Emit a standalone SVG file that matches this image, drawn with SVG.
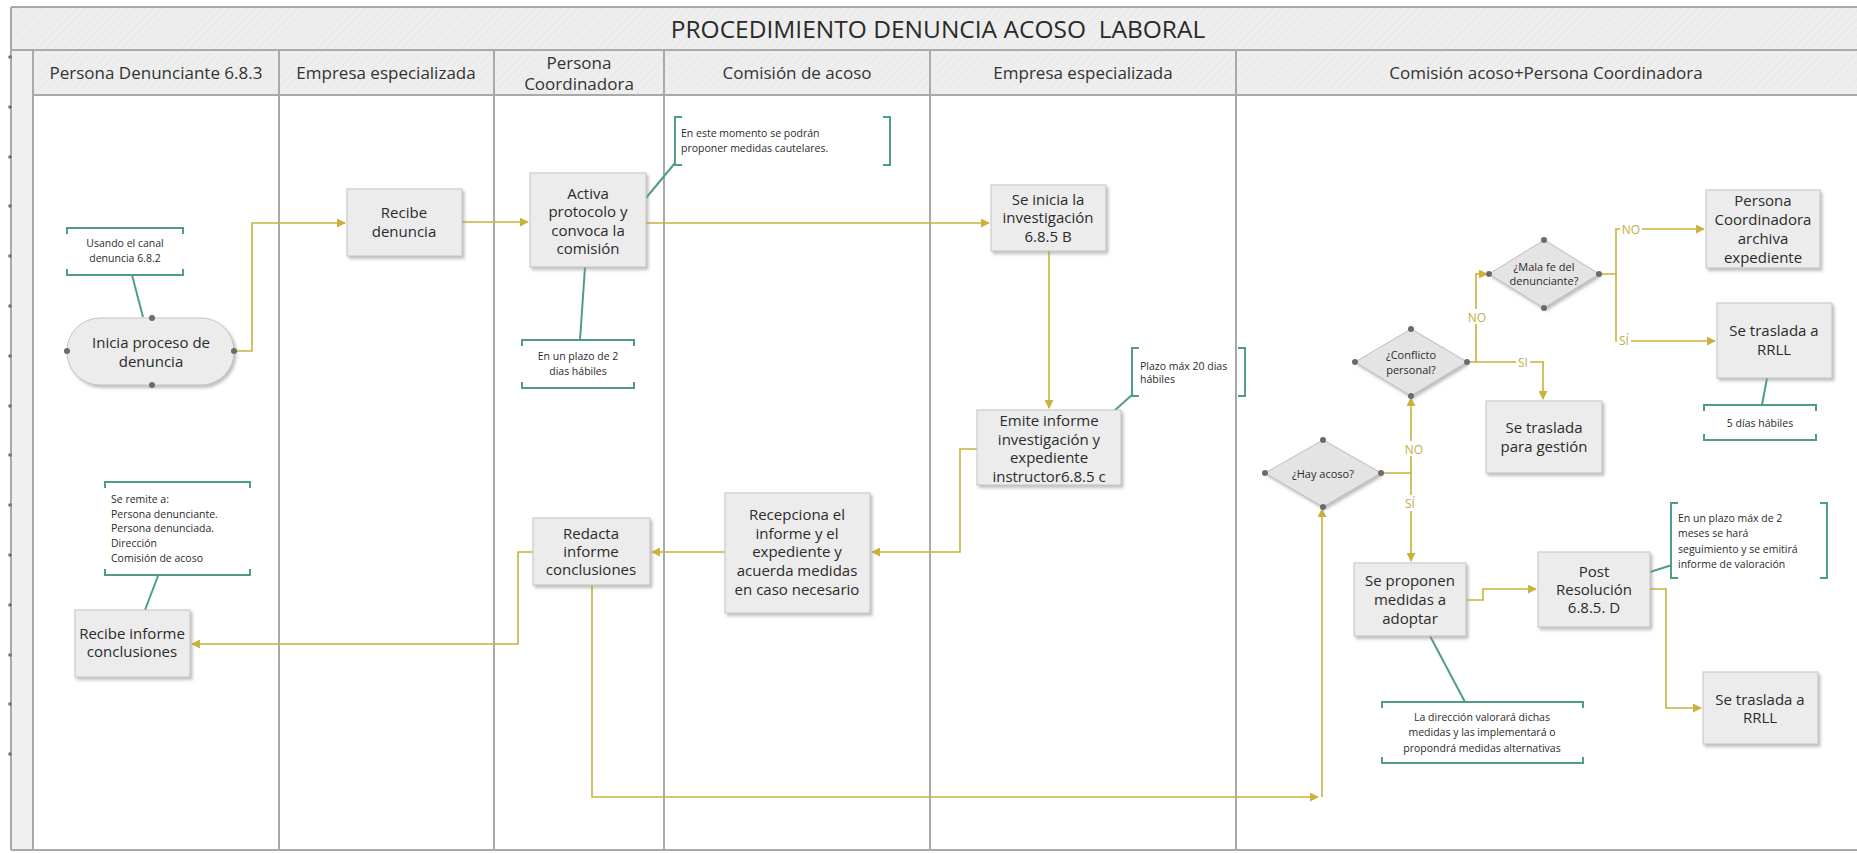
<svg xmlns="http://www.w3.org/2000/svg" width="1857" height="853" viewBox="0 0 1857 853">
<defs>
<pattern id="hatch" width="6" height="6" patternUnits="userSpaceOnUse" patternTransform="rotate(45)">
<rect width="6" height="6" fill="#eeeeee"/>
<line x1="0" y1="0" x2="0" y2="6" stroke="#e7e7e7" stroke-width="1.5"/>
</pattern>
<filter id="sh" x="-10%" y="-10%" width="130%" height="130%">
<feDropShadow dx="2" dy="2.5" stdDeviation="1.5" flood-color="#8a8a8a" flood-opacity="0.55"/>
</filter>
<marker id="arr" viewBox="0 0 10 10" refX="9" refY="5" markerWidth="9" markerHeight="9" markerUnits="userSpaceOnUse" orient="auto">
<path d="M0,0 L10,5 L0,10 z" fill="#c9b13c"/>
</marker>
<style>
.lane{stroke:#a9a9a9;stroke-width:2;fill:none}
.hdr{font-family:'Open Sans','Noto Sans',sans-serif;font-size:17px;fill:#333;text-anchor:middle;dominant-baseline:central}
.ttl{font-family:'Open Sans','Noto Sans',sans-serif;font-size:24.5px;fill:#2a2a2a;text-anchor:middle;dominant-baseline:central}
.box{fill:#ececec;stroke:#c4c4c4;stroke-width:1;filter:url(#sh)}
.dia{fill:#e4e4e4;stroke:#bdbdbd;stroke-width:1;filter:url(#sh)}
.t{font-family:'Open Sans','Noto Sans',sans-serif;font-size:15px;fill:#2b2b2b;text-anchor:middle;dominant-baseline:central}
.td{font-family:'Open Sans','Noto Sans',sans-serif;font-size:11px;fill:#2b2b2b;text-anchor:middle;dominant-baseline:central}
.n{font-family:'Open Sans','Noto Sans',sans-serif;font-size:10.5px;fill:#2b2b2b;dominant-baseline:central}
.nc{text-anchor:middle}
.br{fill:none;stroke:#4f9d88;stroke-width:2}
.nl{fill:none;stroke:#4f9d88;stroke-width:2}
.e{fill:none;stroke:#c9b13c;stroke-width:1.6}
.lb{font-family:'Open Sans','Noto Sans',sans-serif;font-size:12px;fill:#c4ad45;text-anchor:middle;dominant-baseline:central}
.lbbg{fill:#ffffff}
.dot{fill:#6b6b6b}
.tick{fill:#707070}
</style>
</defs>

<!-- background -->
<rect x="0" y="0" width="1857" height="853" fill="#ffffff"/>
<g id="frame">
<rect x="11" y="7" width="1850" height="43" fill="url(#hatch)"/>
<rect x="11" y="50" width="1850" height="45" fill="url(#hatch)"/>
<rect x="11" y="50" width="22" height="800" fill="#f0f0f0"/>
<line x1="11" y1="7" x2="1857" y2="7" class="lane"/>
<line x1="11" y1="50" x2="1857" y2="50" class="lane"/>
<line x1="33" y1="95" x2="1857" y2="95" class="lane"/>
<line x1="11" y1="850" x2="1857" y2="850" class="lane"/>
<line x1="11" y1="7" x2="11" y2="850" class="lane"/>
<line x1="33" y1="50" x2="33" y2="850" class="lane"/>
<line x1="279" y1="50" x2="279" y2="850" class="lane"/>
<line x1="494" y1="50" x2="494" y2="850" class="lane"/>
<line x1="664" y1="50" x2="664" y2="850" class="lane"/>
<line x1="930" y1="50" x2="930" y2="850" class="lane"/>
<line x1="1236" y1="50" x2="1236" y2="850" class="lane"/>
<g class="tick">
<circle cx="10" cy="57" r="1.8"/><circle cx="10" cy="107" r="1.8"/><circle cx="10" cy="157" r="1.8"/><circle cx="10" cy="206" r="1.8"/><circle cx="10" cy="256" r="1.8"/><circle cx="10" cy="306" r="1.8"/><circle cx="10" cy="356" r="1.8"/><circle cx="10" cy="406" r="1.8"/><circle cx="10" cy="455" r="1.8"/><circle cx="10" cy="505" r="1.8"/><circle cx="10" cy="555" r="1.8"/><circle cx="10" cy="605" r="1.8"/><circle cx="10" cy="655" r="1.8"/><circle cx="10" cy="704" r="1.8"/><circle cx="10" cy="754" r="1.8"/>
</g>
<text class="ttl" x="938" y="28" xml:space="preserve">PROCEDIMIENTO DENUNCIA ACOSO  LABORAL</text>
<text class="hdr" x="156" y="72">Persona Denunciante 6.8.3</text>
<text class="hdr" x="386" y="72">Empresa especializada</text>
<text class="hdr" x="579" y="62">Persona</text>
<text class="hdr" x="579" y="83">Coordinadora</text>
<text class="hdr" x="797" y="72">Comisión de acoso</text>
<text class="hdr" x="1083" y="72">Empresa especializada</text>
<text class="hdr" x="1546" y="72">Comisión acoso+Persona Coordinadora</text>
</g>

<!-- connectors -->
<g id="connectors">
<path class="e" d="M234,351 H252 V223 H345" marker-end="url(#arr)"/>
<path class="e" d="M462,222 H528" marker-end="url(#arr)"/>
<path class="e" d="M646,223 H989" marker-end="url(#arr)"/>
<path class="e" d="M1049,251 V408" marker-end="url(#arr)"/>
<path class="e" d="M977,449 H960 V552 H872" marker-end="url(#arr)"/>
<path class="e" d="M725,552 H652" marker-end="url(#arr)"/>
<path class="e" d="M533,552 H518 V644 H192" marker-end="url(#arr)"/>
<path class="e" d="M592,585 V797 H1318" marker-end="url(#arr)"/>
<path class="e" d="M1322,797 V509" marker-end="url(#arr)"/>
<path class="e" d="M1381,473 H1411 V398" marker-end="url(#arr)"/>
<path class="e" d="M1411,473 V561" marker-end="url(#arr)"/>
<path class="e" d="M1467,362 H1476 V274 H1487" marker-end="url(#arr)"/>
<path class="e" d="M1476,362 H1543 V399" marker-end="url(#arr)"/>
<path class="e" d="M1599,274 H1616 V229 H1704" marker-end="url(#arr)"/>
<path class="e" d="M1616,274 V341 H1715" marker-end="url(#arr)"/>
<path class="e" d="M1466,600 H1483 V589 H1536" marker-end="url(#arr)"/>
<path class="e" d="M1650,589 H1666 V708 H1701" marker-end="url(#arr)"/>
<!-- edge labels -->
<rect class="lbbg" x="1404" y="441" width="20" height="15"/><text class="lb" x="1414" y="449">NO</text>
<rect class="lbbg" x="1403" y="495" width="16" height="16"/><text class="lb" x="1410" y="503">SÍ</text>
<rect class="lbbg" x="1467" y="309" width="20" height="15"/><text class="lb" x="1477" y="317">NO</text>
<rect class="lbbg" x="1516" y="355" width="14" height="15"/><text class="lb" x="1523" y="362">SI</text>
<rect class="lbbg" x="1620" y="222" width="22" height="15"/><text class="lb" x="1631" y="229">NO</text>
<rect class="lbbg" x="1617" y="333" width="14" height="16"/><text class="lb" x="1624" y="340">SÍ</text>
<!-- note connectors -->
<line class="nl" x1="132" y1="275" x2="143" y2="317"/>
<line class="nl" x1="646" y1="198" x2="675" y2="163"/>
<line class="nl" x1="585" y1="267" x2="580" y2="340"/>
<line class="nl" x1="1114" y1="411" x2="1133" y2="394"/>
<line class="nl" x1="158" y1="576" x2="145" y2="610"/>
<line class="nl" x1="1767" y1="378" x2="1762" y2="405"/>
<line class="nl" x1="1650" y1="572" x2="1672" y2="565"/>
<line class="nl" x1="1430" y1="636" x2="1465" y2="702"/>
</g>

<!-- nodes -->
<g id="inicia">
<rect class="box" x="67" y="318" width="167" height="67" rx="33" ry="33"/>
<text class="t" x="151" y="342">Inicia proceso de</text>
<text class="t" x="151" y="361">denuncia</text>
<circle class="dot" cx="152" cy="318" r="3"/><circle class="dot" cx="152" cy="385" r="3"/><circle class="dot" cx="67" cy="351" r="3"/><circle class="dot" cx="234" cy="351" r="3"/>
</g>
<g id="note-usando">
<path class="br" d="M67,234 V228 H183 V234 M67,269 V275 H183 V269"/>
<text class="n nc" x="125" y="243">Usando el canal</text>
<text class="n nc" x="125" y="258">denuncia 6.8.2</text>
</g>
<g id="recibe-denuncia">
<rect class="box" x="347" y="189" width="115" height="67"/>
<text class="t" x="404" y="212">Recibe</text>
<text class="t" x="404" y="231">denuncia</text>
</g>
<g id="activa">
<rect class="box" x="530" y="173" width="116" height="94"/>
<text class="t" x="588" y="193">Activa</text>
<text class="t" x="588" y="211">protocolo y</text>
<text class="t" x="588" y="230">convoca la</text>
<text class="t" x="588" y="248">comisión</text>
</g>
<g id="note-cautelares">
<path class="br" d="M682,117 H675 V165 H682 M883,117 H890 V165 H883"/>
<text class="n" x="681" y="133">En este momento se podrán</text>
<text class="n" x="681" y="148">proponer medidas cautelares.</text>
</g>
<g id="note-plazo2">
<path class="br" d="M522,346 V340 H634 V346 M522,382 V388 H634 V382"/>
<text class="n nc" x="578" y="356">En un plazo de 2</text>
<text class="n nc" x="578" y="371">dias hábiles</text>
</g>
<g id="se-inicia">
<rect class="box" x="991" y="185" width="115" height="66"/>
<text class="t" x="1048" y="199">Se inicia la</text>
<text class="t" x="1048" y="217">investigación</text>
<text class="t" x="1048" y="236">6.8.5 B</text>
</g>
<g id="emite">
<rect class="box" x="977" y="410" width="144" height="75"/>
<text class="t" x="1049" y="420">Emite informe</text>
<text class="t" x="1049" y="439">investigación y</text>
<text class="t" x="1049" y="457">expediente</text>
<text class="t" x="1049" y="476">instructor6.8.5 c</text>
</g>
<g id="note-plazo20">
<path class="br" d="M1139,348 H1132 V396 H1139 M1238,348 H1245 V396 H1238"/>
<text class="n" x="1140" y="366">Plazo máx 20 dias</text>
<text class="n" x="1140" y="379">hábiles</text>
</g>
<g id="recepciona">
<rect class="box" x="725" y="493" width="145" height="120"/>
<text class="t" x="797" y="514">Recepciona el</text>
<text class="t" x="797" y="533">informe y el</text>
<text class="t" x="797" y="551">expediente y</text>
<text class="t" x="797" y="570">acuerda medidas</text>
<text class="t" x="797" y="589">en caso necesario</text>
</g>
<g id="redacta">
<rect class="box" x="533" y="518" width="117" height="67"/>
<text class="t" x="591" y="533">Redacta</text>
<text class="t" x="591" y="551">informe</text>
<text class="t" x="591" y="569">conclusiones</text>
</g>
<g id="note-remite">
<path class="br" d="M105,488 V482 H250 V488 M105,569 V575 H250 V569"/>
<text class="n" x="111" y="499">Se remite a:</text>
<text class="n" x="111" y="514">Persona denunciante.</text>
<text class="n" x="111" y="528">Persona denunciada.</text>
<text class="n" x="111" y="543">Dirección</text>
<text class="n" x="111" y="558">Comisión de acoso</text>
</g>
<g id="recibe-informe">
<rect class="box" x="75" y="610" width="115" height="67"/>
<text class="t" x="132" y="633">Recibe informe</text>
<text class="t" x="132" y="651">conclusiones</text>
</g>
<g id="hay-acoso">
<polygon class="dia" points="1265,473 1323,440 1381,473 1323,507"/>
<text class="td" x="1323" y="473">¿Hay acoso?</text>
<circle class="dot" cx="1323" cy="440" r="3"/><circle class="dot" cx="1265" cy="473" r="3"/><circle class="dot" cx="1381" cy="473" r="3"/><circle class="dot" cx="1323" cy="507" r="3"/>
</g>
<g id="conflicto">
<polygon class="dia" points="1355,362 1411,329 1467,362 1411,396"/>
<text class="td" x="1411" y="354">¿Conflicto</text>
<text class="td" x="1411" y="369">personal?</text>
<circle class="dot" cx="1411" cy="329" r="3"/><circle class="dot" cx="1355" cy="362" r="3"/><circle class="dot" cx="1467" cy="362" r="3"/><circle class="dot" cx="1411" cy="396" r="3"/>
</g>
<g id="mala-fe">
<polygon class="dia" points="1489,274 1544,240 1599,274 1544,308"/>
<text class="td" x="1544" y="266">¿Mala fe del</text>
<text class="td" x="1544" y="280">denunciante?</text>
<circle class="dot" cx="1544" cy="240" r="3"/><circle class="dot" cx="1489" cy="274" r="3"/><circle class="dot" cx="1599" cy="274" r="3"/><circle class="dot" cx="1544" cy="308" r="3"/>
</g>
<g id="archiva">
<rect class="box" x="1706" y="190" width="114" height="78"/>
<text class="t" x="1763" y="200">Persona</text>
<text class="t" x="1763" y="219">Coordinadora</text>
<text class="t" x="1763" y="238">archiva</text>
<text class="t" x="1763" y="257">expediente</text>
</g>
<g id="rrll-1">
<rect class="box" x="1717" y="303" width="115" height="75"/>
<text class="t" x="1774" y="330">Se traslada a</text>
<text class="t" x="1774" y="349">RRLL</text>
</g>
<g id="note-5dias">
<path class="br" d="M1704,411 V405 H1816 V411 M1704,434 V440 H1816 V434"/>
<text class="n nc" x="1760" y="423">5 días hábiles</text>
</g>
<g id="gestion">
<rect class="box" x="1486" y="401" width="116" height="72"/>
<text class="t" x="1544" y="427">Se traslada</text>
<text class="t" x="1544" y="446">para gestión</text>
</g>
<g id="proponen">
<rect class="box" x="1354" y="563" width="112" height="73"/>
<text class="t" x="1410" y="580">Se proponen</text>
<text class="t" x="1410" y="599">medidas a</text>
<text class="t" x="1410" y="618">adoptar</text>
</g>
<g id="post">
<rect class="box" x="1538" y="552" width="112" height="75"/>
<text class="t" x="1594" y="571">Post</text>
<text class="t" x="1594" y="589">Resolución</text>
<text class="t" x="1594" y="607">6.8.5. D</text>
</g>
<g id="note-2meses">
<path class="br" d="M1678,503 H1671 V578 H1678 M1820,503 H1827 V578 H1820"/>
<text class="n" x="1678" y="518">En un plazo máx de 2</text>
<text class="n" x="1678" y="533">meses se hará</text>
<text class="n" x="1678" y="549">seguimiento y se emitirá</text>
<text class="n" x="1678" y="564">informe de valoración</text>
</g>
<g id="rrll-2">
<rect class="box" x="1703" y="672" width="115" height="72"/>
<text class="t" x="1760" y="699">Se traslada a</text>
<text class="t" x="1760" y="717">RRLL</text>
</g>
<g id="note-direccion">
<path class="br" d="M1382,708 V702 H1583 V708 M1382,757 V763 H1583 V757"/>
<text class="n nc" x="1482" y="717">La dirección valorará dichas</text>
<text class="n nc" x="1482" y="732">medidas y las implementará o</text>
<text class="n nc" x="1482" y="748">propondrá medidas alternativas</text>
</g>
</svg>
